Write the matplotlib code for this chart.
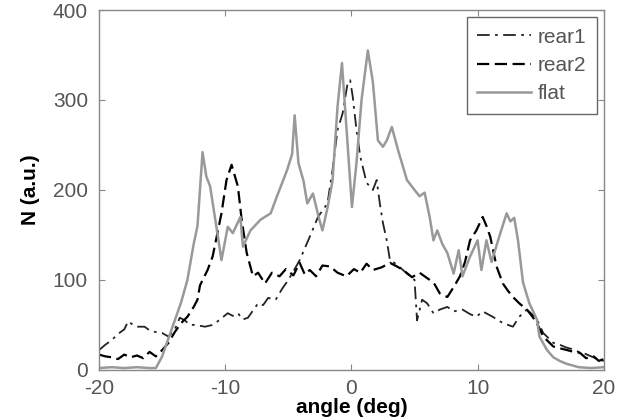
import matplotlib
matplotlib.use("Agg")
import matplotlib.pyplot as plt

# rear1 (dash-dot)
x_rear1 = [-20, -19.5, -19, -18.5, -18, -17.7, -17.3, -17, -16.4, -16, -15.5, -15, -14.5, -14,
           -13.6, -13.2, -12.8, -12.4, -11.6, -11, -10.6, -9.8, -9.4, -9, -8.6, -8.2, -7.8, -7.4,
           -7, -6.6, -6, -5.5, -5, -4.5, -4.1, -3.7, -3.3, -2.65, -1.9, -1.5, -1.1, -0.7, -0.3,
           -0.1, 0.1, 0.4, 0.7, 1.2, 1.7, 2, 2.25, 2.5, 2.8, 3.05, 3.5, 4, 4.5, 5, 5.2, 5.6, 6,
           6.5, 7, 7.6, 8.1, 8.8, 9.4, 9.9, 10.4, 11.2, 12, 12.8, 13.3, 13.9, 14.3, 14.7, 15.2,
           16, 16.5, 17, 17.5, 18, 18.5, 19, 19.5, 20]
y_rear1 = [22, 28, 33, 40, 45, 54, 50, 48, 48, 44, 42, 41, 37, 45,
           58, 55, 50, 50, 48, 50, 54, 63, 60, 63, 56, 58, 66, 74,
           72, 80, 78, 90, 100, 112, 122, 135, 148, 170, 185, 222, 267, 285, 319,
           322, 304, 267, 237, 208, 200, 211, 185, 163, 144, 122, 118, 112, 106, 100, 55, 78, 74,
           63, 67, 70, 65, 67, 62, 59, 65, 59, 52, 48, 59, 67, 62, 56, 41,
           30, 28, 25, 23, 20, 18, 15, 12, 10]

# rear2 (dashed)
x_rear2 = [-20, -19.5, -19, -18.5, -18, -17.5, -17, -16.5, -16, -15.5, -15, -14.5, -14, -13.5,
           -13, -12.5, -12.2, -12, -11.4, -11, -10.3, -9.9, -9.5, -9, -8.7, -8.3, -7.8, -7.4,
           -6.85, -6.3, -5.7, -5.2, -4.6, -4.1, -3.7, -3.3, -2.8, -2.3, -1.7, -1.1, -0.4, 0.2,
           0.7, 1.2, 1.7, 2.4, 3.05, 3.6, 4.1, 4.8, 5.4, 6.2, 6.6, 7, 7.6, 8.1, 8.6, 9, 9.4,
           9.9, 10.4, 10.7, 11, 11.5, 12, 12.4, 12.8, 13.3, 13.9, 14.3, 14.7, 15.2, 16, 16.5,
           17.1, 17.6, 18.1, 18.6, 19.2, 19.6, 20]
y_rear2 = [17, 15, 14, 12, 17, 14, 16, 13, 20, 15, 22, 30, 42, 52,
           59, 70, 78, 94, 111, 126, 174, 211, 228, 204, 167, 130, 104, 108,
           96, 108, 104, 112, 105, 119, 106, 111, 104, 116, 115, 108, 104, 112,
           108, 118, 111, 114, 119, 115, 111, 103, 108, 100, 95, 85, 81, 92, 104, 120, 144,
           155, 170, 160, 148, 115, 96, 88, 81, 74, 67, 60, 52, 37, 26, 24,
           22, 20, 19, 13, 15, 10, 12]

# flat (solid grey)
x_flat = [-20, -19, -18, -17, -16, -15.5, -15, -14.5, -14, -13.5, -13, -12.5, -12.2, -11.8,
          -11.5, -11.2, -10.7, -10.3, -9.8, -9.4, -8.8, -8.6, -8, -7.2, -6.4, -5.9, -5.1, -4.7,
          -4.5, -4.2, -3.8, -3.5, -3.05, -2.6, -2.3, -1.9, -1.5, -1.1, -0.75, -0.4, 0.04, 0.4,
          0.8, 1.3, 1.7, 2.1, 2.5, 2.8, 3.2, 3.7, 4.4, 5, 5.4, 5.8, 6.2, 6.5, 6.8, 7.2, 7.6,
          8.1, 8.5, 8.8, 9.4, 10, 10.3, 10.7, 11.1, 11.8, 12.3, 12.6, 12.9, 13.2, 13.6, 14.1,
          14.7, 14.9, 15.5, 16, 16.5, 17, 17.5, 18, 19, 20]
y_flat = [2, 3, 2, 3, 2, 2, 15, 35, 55, 75, 100, 140, 160, 242,
          215, 204, 159, 122, 159, 152, 170, 137, 155, 167, 174, 193, 222, 240,
          283, 230, 210, 185, 196, 170, 155, 180, 210, 293, 341, 270, 181, 230,
          300, 355, 320, 255, 248, 255, 270, 244, 211, 200, 193, 197, 170, 144, 155, 140, 130,
          107, 133, 104, 126, 144, 111, 144, 120, 152, 174, 165, 169, 144, 97, 74,
          56, 37, 22, 14, 10, 7, 5, 3, 2, 3]

grey = '#888888'
plt.rcParams['font.family'] = ['Liberation Sans', 'DejaVu Sans']
plt.rcParams['axes.unicode_minus'] = False

fig = plt.figure(figsize=(6.27, 4.17), dpi=100)
ax = fig.add_axes([0.158, 0.113, 0.805, 0.863])

ax.plot(x_rear1, y_rear1, linestyle=(0, (7, 3, 1.5, 3)), color='#222222', linewidth=1.3,
        label='rear1')
ax.plot(x_rear2, y_rear2, linestyle=(0, (5.5, 2.5)), color='black', linewidth=1.6,
        label='rear2')
ax.plot(x_flat, y_flat, linestyle='-', color='#999999', linewidth=1.8, label='flat')

ax.set_xlim(-20, 20)
ax.set_ylim(0, 400)
ax.set_xticks([-20, -10, 0, 10, 20])
ax.set_yticks([0, 100, 200, 300, 400])
ax.tick_params(direction='in', top=True, right=True, length=4.5, color=grey,
               labelsize=15, labelcolor='#555555')
ax.tick_params(axis='x', pad=6.5)
ax.tick_params(axis='y', pad=8)
for s in ax.spines.values():
    s.set_color(grey)
    s.set_linewidth(1.0)

ax.set_xlabel('angle (deg)', fontsize=15, fontweight='bold', labelpad=0)
ax.set_ylabel('N (a.u.)', fontsize=15, fontweight='bold', labelpad=9)

leg = ax.legend(loc='upper right', fontsize=15, fancybox=False, framealpha=1,
                edgecolor='#666666', handlelength=2.6, handletextpad=0.3,
                labelspacing=0.45, borderpad=0.5, borderaxespad=0.34)
for t in leg.get_texts():
    t.set_color('#555555')

plt.savefig('out.png', dpi=100)
